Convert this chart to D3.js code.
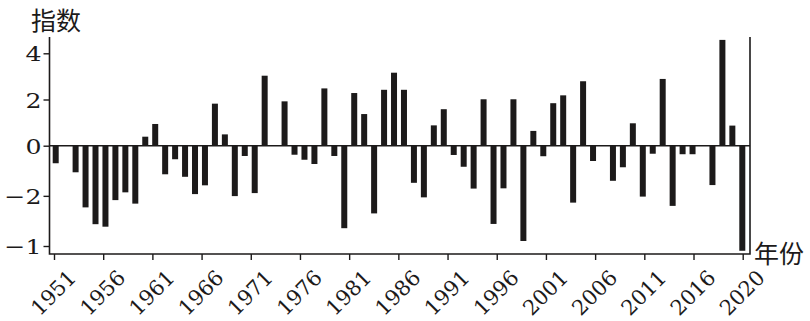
<!DOCTYPE html>
<html>
<head>
<meta charset="utf-8">
<script src="https://cdn.jsdelivr.net/npm/d3@7"></script>
<style>
  body { margin: 0; background: #fff; }
  svg { display: block; }
</style>
</head>
<body>
<svg id="chart"></svg>
<script>
const years = [
  1951, 1952, 1953, 1954, 1955, 1956, 1957, 1958, 1959, 1960,
  1961, 1962, 1963, 1964, 1965, 1966, 1967, 1968, 1969, 1970,
  1971, 1972, 1973, 1974, 1975, 1976, 1977, 1978, 1979, 1980,
  1981, 1982, 1983, 1984, 1985, 1986, 1987, 1988, 1989, 1990,
  1991, 1992, 1993, 1994, 1995, 1996, 1997, 1998, 1999, 2000,
  2001, 2002, 2003, 2004, 2005, 2006, 2007, 2008, 2009, 2010,
  2011, 2012, 2013, 2014, 2015, 2016, 2017, 2018, 2019, 2020,
];

const values = [
  -0.70, 0, -1.06, -2.46, -3.13, -3.23, -2.17, -1.86, -2.31, 0.39,
  0.94, -1.14, -0.54, -1.24, -1.93, -1.58, 1.82, 0.49, -2.01, -0.41,
  -1.89, 3.03, 0, 1.92, -0.36, -0.56, -0.73, 2.48, -0.41, -3.29,
  2.28, 1.37, -2.70, 2.42, 3.16, 2.42, -1.48, -2.06, 0.88, 1.58,
  -0.37, -0.84, -1.71, 2.01, -3.12, -1.70, 2.01, -3.80, 0.64, -0.42,
  1.84, 2.18, -2.27, 2.79, -0.61, 0, -1.40, -0.86, 0.97, -2.03,
  -0.32, 2.89, -2.40, -0.34, -0.34, 0, -1.57, 4.58, 0.87, -4.19,
];

const xTickLabels = [
  "1951", "1956", "1961", "1966", "1971", "1976", "1981", "1986",
  "1991", "1996", "2001", "2006", "2011", "2016", "2020",
];

const yTickValues = [4, 2, 0, -2, -4];
const yTickLabels = ["4", "2", "0", "\u22122", "\u22121"];

const width = 810;
const height = 321;
const margin = { top: 37, right: 60, bottom: 67, left: 49.5 };
const axisY = height - margin.bottom; // bottom frame line
const frameRight = width - margin.right;

const svg = d3.select("#chart").attr("width", width).attr("height", height);

const xBar = d3.scaleLinear().domain([1951, 2020]).range([55.7, 742.3]);
const xTick = d3.scalePoint().domain(xTickLabels).range([54, 742.7]);

// the printed axis is slightly uneven above/below zero
const y = d3.scaleLinear().domain([-4, 0, 4]).range([246, 145.7, 53.3]);

const ink = "#1c1a1a";
const serif = "'DejaVu Serif', 'Liberation Serif', serif";
const cjk = "'Noto Sans CJK SC', sans-serif";

// bars
svg
  .append("g")
  .selectAll("rect")
  .data(values)
  .join("rect")
  .attr("x", (d, i) => xBar(years[i]) - 3)
  .attr("width", 6)
  .attr("y", (d) => y(Math.max(0, d)))
  .attr("height", (d) => Math.abs(y(d) - y(0)))
  .attr("fill", ink);

// zero line
svg
  .append("line")
  .attr("x1", margin.left)
  .attr("x2", frameRight)
  .attr("y1", y(0))
  .attr("y2", y(0))
  .attr("stroke", ink)
  .attr("stroke-width", 1.6);

// left axis
const yAxis = svg
  .append("g")
  .attr("transform", `translate(${margin.left},0)`)
  .attr("font-family", serif)
  .call(
    d3.axisLeft(y)
      .tickValues(yTickValues)
      .tickSize(6)
      .tickFormat((d, i) => yTickLabels[i])
  );
yAxis.select(".domain").remove();
yAxis.selectAll("line").attr("stroke", ink).attr("stroke-width", 1.4);
yAxis
  .selectAll("text")
  .attr("x", 0)
  .attr("dy", "0.36em")
  .attr("transform", "translate(-8,0) scale(1.2,1)")
  .attr("fill", ink)
  .style("font-family", serif)
  .style("font-size", "21px");

// bottom axis
const xAxis = svg
  .append("g")
  .attr("transform", `translate(0,${axisY})`)
  .attr("font-family", serif)
  .call(d3.axisBottom(xTick).tickSize(6).tickSizeOuter(0));
xAxis.select(".domain").remove();
xAxis.selectAll("line").attr("stroke", ink).attr("stroke-width", 1.4);
xAxis
  .selectAll("text")
  .attr("x", 0)
  .attr("y", 0)
  .attr("dy", 0)
  .attr("text-anchor", "end")
  .attr("transform", "translate(23,25) rotate(-45)")
  .attr("fill", ink)
  .style("font-family", serif)
  .style("font-size", "21px");

// frame: left, bottom, right
svg
  .append("path")
  .attr("d", `M${margin.left},${margin.top}V${axisY}H${frameRight}V${margin.top}`)
  .attr("fill", "none")
  .attr("stroke", ink)
  .attr("stroke-width", 1.6);

// axis titles
svg
  .append("text")
  .attr("x", 31)
  .attr("y", 30)
  .attr("fill", ink)
  .style("font-family", cjk)
  .style("font-size", "25px")
  .text("指数");

svg
  .append("text")
  .attr("x", 754)
  .attr("y", 263)
  .attr("fill", ink)
  .style("font-family", cjk)
  .style("font-size", "25px")
  .text("年份");
</script>
</body>
</html>
